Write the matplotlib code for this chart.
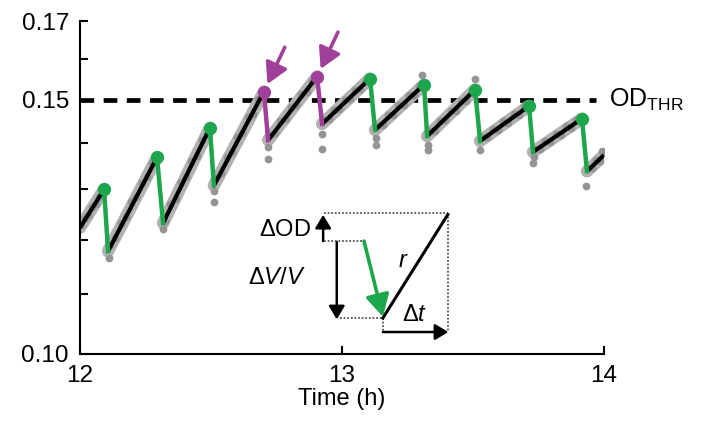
import numpy as np
import matplotlib
matplotlib.use('Agg')
import matplotlib.pyplot as plt
from matplotlib.ticker import NullLocator

plt.rcParams['font.family'] = ['Liberation Sans', 'DejaVu Sans']
plt.rcParams['mathtext.fontset'] = 'custom'
plt.rcParams['mathtext.rm'] = 'Liberation Sans'
plt.rcParams['mathtext.it'] = 'Liberation Sans:italic'

# ---------------- data ----------------
start_t, start_od = 12.0, 0.1223
end_t, end_od = 14.0, 0.1373

# peaks just before each dilution, and the bottoms right after
peak_t = [12.092, 12.294, 12.496, 12.702, 12.905, 13.107, 13.313, 13.508, 13.714, 13.916]
peak_od = [0.1300, 0.1368, 0.1434, 0.1519, 0.1556, 0.1551, 0.1536, 0.1524, 0.1485, 0.1455]
drop_t = [12.107, 12.317, 12.511, 12.718, 12.924, 13.126, 13.325, 13.527, 13.729, 13.935]
drop_od = [0.1178, 0.1232, 0.1308, 0.1406, 0.1443, 0.1429, 0.1415, 0.1404, 0.1380, 0.1338]
purple_idx = [3, 4]   # dilutions marked with arrows

od_thr = 0.15

# raw measurements (gray points)
gray_t = [12.004, 12.018, 12.032, 12.046, 12.060, 12.074, 12.088,
          12.115, 12.135, 12.155, 12.175, 12.195, 12.215, 12.235, 12.255, 12.275, 12.290,
          12.325, 12.345, 12.365, 12.385, 12.405, 12.425, 12.445, 12.465, 12.485,
          12.520, 12.540, 12.560, 12.580, 12.600, 12.620, 12.640, 12.660, 12.680, 12.698,
          12.725, 12.745, 12.765, 12.785, 12.805, 12.825, 12.845, 12.865, 12.885, 12.900,
          12.930, 12.950, 12.970, 12.990, 13.010, 13.030, 13.050, 13.070, 13.090, 13.103,
          13.135, 13.155, 13.175, 13.195, 13.215, 13.235, 13.255, 13.275, 13.295, 13.309,
          13.335, 13.355, 13.375, 13.395, 13.415, 13.435, 13.455, 13.475, 13.495, 13.505,
          13.535, 13.555, 13.575, 13.595, 13.615, 13.635, 13.655, 13.675, 13.695, 13.710,
          13.735, 13.755, 13.775, 13.795, 13.815, 13.835, 13.855, 13.875, 13.895, 13.912,
          13.940, 13.955, 13.970, 13.985, 13.998, 13.992,
          12.110, 12.317, 12.513, 12.513, 12.718, 12.718, 12.924, 12.924,
          13.130, 13.130, 13.328, 13.328, 13.527, 13.732, 13.729, 13.930,
          13.307, 13.508]
gray_od = [0.1228, 0.1241, 0.1247, 0.1263, 0.1270, 0.1285, 0.1293,
           0.1190, 0.1203, 0.1233, 0.1244, 0.1274, 0.1285, 0.1314, 0.1326, 0.1356, 0.1362,
           0.1236, 0.1270, 0.1281, 0.1316, 0.1326, 0.1361, 0.1371, 0.1406, 0.1417,
           0.1324, 0.1334, 0.1369, 0.1379, 0.1413, 0.1422, 0.1458, 0.1467, 0.1502, 0.1510,
           0.1417, 0.1423, 0.1450, 0.1455, 0.1482, 0.1487, 0.1514, 0.1519, 0.1546, 0.1548,
           0.1452, 0.1454, 0.1476, 0.1478, 0.1500, 0.1501, 0.1523, 0.1525, 0.1546, 0.1545,
           0.1439, 0.1441, 0.1463, 0.1464, 0.1486, 0.1487, 0.1510, 0.1510, 0.1533, 0.1531,
           0.1426, 0.1427, 0.1450, 0.1451, 0.1473, 0.1474, 0.1496, 0.1497, 0.1519, 0.1514,
           0.1413, 0.1412, 0.1431, 0.1429, 0.1449, 0.1446, 0.1466, 0.1464, 0.1484, 0.1480,
           0.1387, 0.1386, 0.1404, 0.1401, 0.1420, 0.1418, 0.1437, 0.1434, 0.1453, 0.1449,
           0.1345, 0.1344, 0.1363, 0.1361, 0.1378, 0.1383,
           0.1165, 0.1221, 0.1297, 0.1275, 0.1390, 0.1364, 0.1420, 0.1386,
           0.1411, 0.1395, 0.1395, 0.1384, 0.1384, 0.1369, 0.1355, 0.1308,
           0.1561, 0.1549]

ytick_vals = [0.10, 0.11, 0.12, 0.13, 0.14, 0.15, 0.16, 0.17]
ytick_labels = ['0.10', '', '', '', '', '0.15', '', '0.17']
xtick_vals = [12, 13, 14]

GREEN = '#1ea64c'
PURPLE = '#a1409a'
GRAY = '#949494'

# ---------------- figure ----------------
fig = plt.figure(figsize=(7.02, 4.22), dpi=100)
ax = fig.add_axes([80 / 702, 1 - 354 / 422, 524 / 702, 333 / 422])

# threshold
ax.hlines(od_thr, 12.0, 13.968, colors='black', lw=3.4,
          linestyles=(0, (2.9, 2.0)), zorder=1)

# growth fits between a dilution bottom and the next peak
seg_t0 = [start_t] + drop_t
seg_od0 = [start_od] + drop_od
seg_t1 = peak_t + [end_t]
seg_od1 = peak_od + [end_od]
for t0, o0, t1, o1 in zip(seg_t0, seg_od0, seg_t1, seg_od1):
    # soft gray band of the raw data under the fit
    ax.plot([t0, t1], [o0, o1], color='#b2b2b2', lw=9, solid_capstyle='round', zorder=1.5)
    ax.plot([t0, t1], [o0, o1], color='black', lw=3, solid_capstyle='butt', zorder=3)

# raw points
ax.plot(gray_t, gray_od, 'o', ms=5.6, color=GRAY, mec='none', zorder=2)

# dilutions
for i in range(len(peak_t)):
    c = PURPLE if i in purple_idx else GREEN
    ax.plot([peak_t[i], drop_t[i]], [peak_od[i], drop_od[i]], color=c, lw=3.2, zorder=4)
    ax.plot(peak_t[i], peak_od[i], 'o', ms=8.5, color=c, zorder=5)

# arrows pointing at the first threshold crossings
for i in purple_idx:
    ax.annotate('', xy=(peak_t[i], peak_od[i]), xytext=(15, 32),
                textcoords='offset points',
                arrowprops=dict(arrowstyle='-|>,head_length=0.5,head_width=0.28',
                                color=PURPLE, lw=2.6,
                                mutation_scale=25, shrinkA=0, shrinkB=6))

ax.text(1.010, od_thr, r'OD$_{\mathrm{THR}}$', transform=ax.get_yaxis_transform(),
        ha='left', va='center', fontsize=18)

# ---------------- schematic inset (axes fraction) ----------------
tr = ax.transAxes
dot = dict(color='#555555', lw=1.3, ls=(0, (1, 1)), transform=tr, zorder=6)
ax.plot([0.466, 0.702], [0.423, 0.423], **dot)
ax.plot([0.702, 0.702], [0.423, 0.066], **dot)
ax.plot([0.466, 0.542], [0.339, 0.339], **dot)
ax.plot([0.496, 0.578], [0.108, 0.108], **dot)
ax.plot([0.578, 0.578], [0.108, 0.066], **dot)

blk = dict(arrowstyle='-|>,head_length=0.5,head_width=0.3', color='black', lw=1.8,
           mutation_scale=16, shrinkA=0, shrinkB=0)
ax.annotate('', xy=(0.464, 0.418), xytext=(0.464, 0.339), xycoords=tr,
            arrowprops=blk)
ax.annotate('', xy=(0.490, 0.104), xytext=(0.490, 0.337), xycoords=tr,
            arrowprops=blk)
ax.annotate('', xy=(0.703, 0.066), xytext=(0.578, 0.066), xycoords=tr,
            arrowprops=blk)
ax.annotate('', xy=(0.578, 0.112), xytext=(0.542, 0.339), xycoords=tr,
            arrowprops=dict(arrowstyle='-|>,head_length=0.55,head_width=0.3',
                            color=GREEN, lw=2.6,
                            mutation_scale=24, shrinkA=0, shrinkB=0))
ax.plot([0.578, 0.702], [0.108, 0.419], color='black', lw=2.2, transform=tr, zorder=6)

ax.text(0.440, 0.372, r'$\Delta$OD', transform=tr, ha='right', va='center', fontsize=17)
ax.text(0.430, 0.228, r'$\Delta V/V$', transform=tr, ha='right', va='center', fontsize=17)
ax.text(0.617, 0.278, r'$r$', transform=tr, ha='center', va='center', fontsize=17)
ax.text(0.638, 0.118, r'$\Delta t$', transform=tr, ha='center', va='center', fontsize=17)

# ---------------- axes ----------------
ax.set_yscale('log')
ax.set_ylim(0.10, 0.17)
ax.set_xlim(12, 14)
ax.set_yticks(ytick_vals)
ax.set_yticklabels(ytick_labels)
ax.yaxis.set_minor_locator(NullLocator())
ax.set_xticks(xtick_vals)
ax.set_xticklabels([str(v) for v in xtick_vals])
ax.tick_params(direction='in', length=6, width=1.5, labelsize=17.5)
ax.tick_params(axis='x', pad=8)
ax.tick_params(axis='y', pad=8)
for s in ['top', 'right']:
    ax.spines[s].set_visible(False)
for s in ['left', 'bottom']:
    ax.spines[s].set_linewidth(1.5)
ax.set_xlabel('Time (h)', fontsize=17, labelpad=1)

fig.savefig('out.png', dpi=100)
